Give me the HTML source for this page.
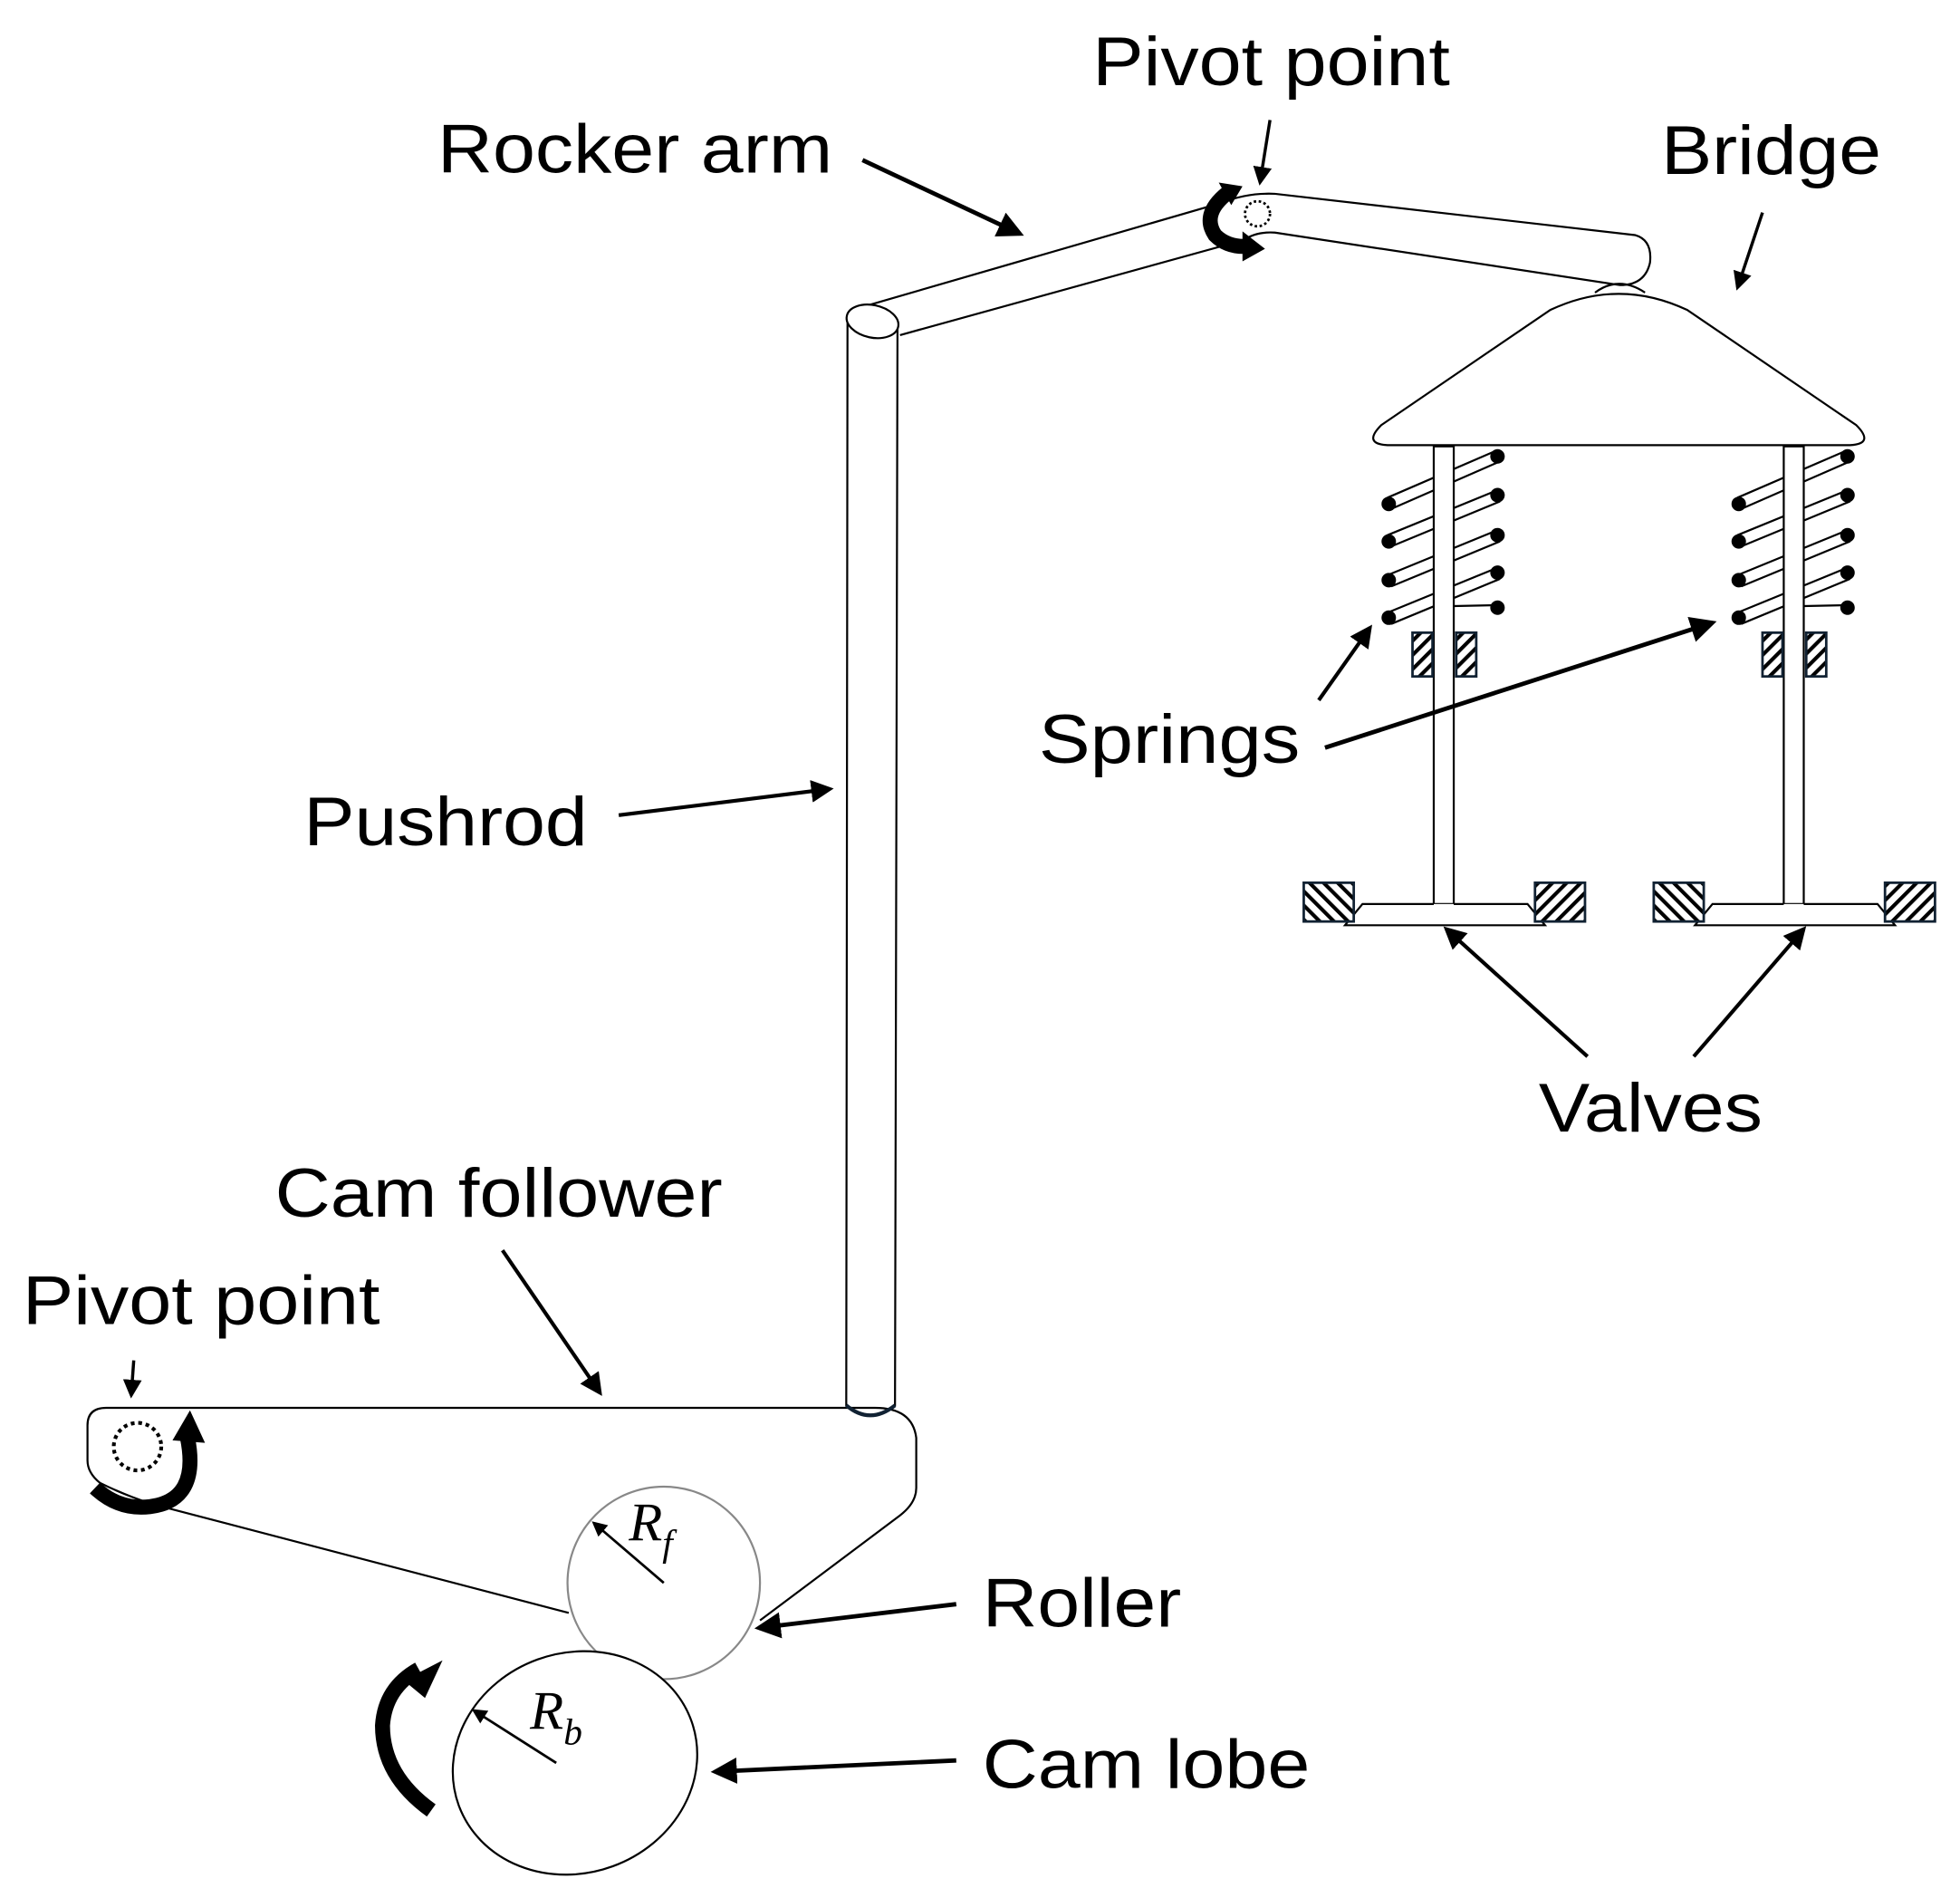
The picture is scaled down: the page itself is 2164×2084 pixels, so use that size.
<!DOCTYPE html>
<html><head><meta charset="utf-8"><style>
html,body{margin:0;padding:0;background:#fff;}
svg{display:block;}
text{font-family:"Liberation Sans",sans-serif;font-size:55px;fill:#000;}
.it{font-family:"Liberation Serif",serif;font-style:italic;font-size:44px;}
</style></head><body>
<svg width="2164" height="2084" viewBox="0 0 1568 1510" xmlns="http://www.w3.org/2000/svg">
<defs>
<marker id="ah" markerWidth="6" markerHeight="6" refX="5" refY="3" orient="auto" markerUnits="strokeWidth"><path d="M0,0 L6,3 L0,6 z" fill="#000"/></marker>
<pattern id="hr" width="8" height="8" patternUnits="userSpaceOnUse" patternTransform="rotate(45)"><rect width="8" height="8" fill="#fff"/><rect width="3" height="8" fill="#000"/></pattern>
<pattern id="hl" width="8" height="8" patternUnits="userSpaceOnUse" patternTransform="rotate(-45)"><rect width="8" height="8" fill="#fff"/><rect width="3" height="8" fill="#000"/></pattern>
</defs>
<g fill="none" stroke="#000" stroke-width="1.6">
<path d="M688,246 L978,162 Q998,154 1020,155 L1308,188 Q1322,192 1320,210 Q1316,228 1296,228 L1020,186 Q1005,185 995,192 L720,268" fill="#fff"/>
<path d="M678,258 L677,1124 Q696,1138 716,1124 L718,258" fill="#fff"/>
<ellipse cx="698" cy="257" rx="21" ry="13" transform="rotate(12 698 257)" fill="#fff"/>
<circle cx="1006" cy="171" r="10" stroke-dasharray="2,2" stroke-width="2"/>
<path d="M1105,340 L1240,248 Q1295,222 1350,248 L1485,340 Q1500,355 1480,356 L1110,356 Q1090,355 1105,340 Z" fill="#fff"/>
<path d="M1276,234 Q1295,220 1316,234" />
<path d="M85,1126 L700,1126 Q730,1126 733,1150 L733,1190 Q733,1202 720,1212 L608,1296 M455,1290 L122,1203 Q100,1196 80,1186 Q70,1178 70,1168 L70,1140 Q70,1126 85,1126" fill="#fff"/>
<circle cx="110" cy="1157" r="19" stroke-dasharray="3,3" stroke-width="3"/>
<circle cx="531" cy="1266" r="77" stroke="#888" fill="#fff"/>
<ellipse cx="460" cy="1410" rx="99" ry="88" transform="rotate(-20 460 1410)" fill="#fff"/>
</g>
<path d="M677,1124 Q696,1140 716,1124" fill="none" stroke="#123" stroke-width="3"/>
<g stroke="#000" stroke-width="1.6">
<g id="sp">
<line x1="1110" y1="398" x2="1198" y2="360"/><line x1="1113" y1="407" x2="1200" y2="369"/>
<line x1="1110" y1="428" x2="1198" y2="392"/><line x1="1113" y1="437" x2="1200" y2="401"/>
<line x1="1110" y1="460" x2="1198" y2="424"/><line x1="1113" y1="469" x2="1200" y2="433"/>
<line x1="1110" y1="490" x2="1198" y2="454"/><line x1="1113" y1="499" x2="1200" y2="463"/>
<line x1="1150" y1="485" x2="1198" y2="484"/>
<g fill="#000"><circle cx="1111" cy="403" r="5"/><circle cx="1111" cy="433" r="5"/><circle cx="1111" cy="464" r="5"/><circle cx="1111" cy="494" r="5"/>
<circle cx="1198" cy="365" r="5"/><circle cx="1198" cy="396" r="5"/><circle cx="1198" cy="428" r="5"/><circle cx="1198" cy="458" r="5"/><circle cx="1198" cy="486" r="5"/></g>
<rect x="1147" y="357" width="16" height="366" fill="#fff" stroke="#000"/>
<rect x="1130" y="506" width="16" height="35" fill="url(#hr)" stroke="#123" stroke-width="2"/>
<rect x="1165" y="506" width="16" height="35" fill="url(#hr)" stroke="#123" stroke-width="2"/>
<path d="M1147,723 L1090,723 L1076,740 L1236,740 L1222,723 L1163,723" fill="#fff"/>
<rect x="1043" y="706" width="40" height="31" fill="url(#hl)" stroke="#123" stroke-width="2"/>
<rect x="1228" y="706" width="40" height="31" fill="url(#hr)" stroke="#123" stroke-width="2"/>
</g>
<use href="#sp" transform="translate(280,0)"/>
</g>
<g stroke="#000" stroke-width="3.5" fill="none" marker-end="url(#ah)">
<line x1="690" y1="128" x2="816" y2="187"/>
<line x1="1016" y1="96" x2="1008" y2="146" stroke-width="2.5"/>
<line x1="1410" y1="170" x2="1390" y2="230" stroke-width="2.5"/>
<line x1="495" y1="652" x2="664" y2="631" stroke-width="3"/>
<line x1="1055" y1="560" x2="1096" y2="502" stroke-width="3"/>
<line x1="1060" y1="598" x2="1370" y2="498" stroke-width="3.5"/>
<line x1="1270" y1="845" x2="1157" y2="743" stroke-width="3"/>
<line x1="1355" y1="845" x2="1443" y2="743" stroke-width="3"/>
<line x1="402" y1="1000" x2="480" y2="1114" stroke-width="3"/>
<line x1="107" y1="1088" x2="105" y2="1116" stroke-width="2.5"/>
<line x1="765" y1="1283" x2="607" y2="1302" stroke-width="3.5"/>
<line x1="765" y1="1408" x2="572" y2="1417" stroke-width="3.5"/>
<line x1="531" y1="1266" x2="475" y2="1218" stroke-width="2"/>
<line x1="445" y1="1410" x2="379" y2="1368" stroke-width="2"/>
</g>
<g fill="none" stroke="#000" stroke-width="12">
<path d="M150,1150 Q160,1200 120,1205 Q95,1208 76,1190"/>
<path d="M345,1448 Q306,1420 306,1380 Q308,1350 335,1335"/>
<path d="M985,152 Q960,170 972,188 Q982,198 998,197"/>
</g>
<g fill="#000">
<path d="M138,1152 L152,1128 L164,1154 Z"/>
<path d="M323,1344 L354,1328 L340,1358 Z"/>
<path d="M994,185 L1012,199 L994,209 Z"/>
<path d="M975,146 L994,149 L985,164 Z"/>
</g>
<text x="874" y="68" textLength="286" lengthAdjust="spacingAndGlyphs">Pivot point</text>
<text x="350" y="138" textLength="316" lengthAdjust="spacingAndGlyphs">Rocker arm</text>
<text x="1329" y="139" textLength="176" lengthAdjust="spacingAndGlyphs">Bridge</text>
<text x="243" y="676" textLength="227" lengthAdjust="spacingAndGlyphs">Pushrod</text>
<text x="831" y="610" textLength="209" lengthAdjust="spacingAndGlyphs">Springs</text>
<text x="1231" y="905" textLength="179" lengthAdjust="spacingAndGlyphs">Valves</text>
<text x="220" y="973" textLength="358" lengthAdjust="spacingAndGlyphs">Cam follower</text>
<text x="18" y="1059" textLength="286" lengthAdjust="spacingAndGlyphs">Pivot point</text>
<text x="786" y="1301" textLength="159" lengthAdjust="spacingAndGlyphs">Roller</text>
<text x="786" y="1430" textLength="262" lengthAdjust="spacingAndGlyphs">Cam lobe</text>
<text class="it" x="503" y="1232">R<tspan font-size="30" dy="12">f</tspan></text>
<text class="it" x="424" y="1383">R<tspan font-size="30" dy="12">b</tspan></text>
</svg>
</body></html>
